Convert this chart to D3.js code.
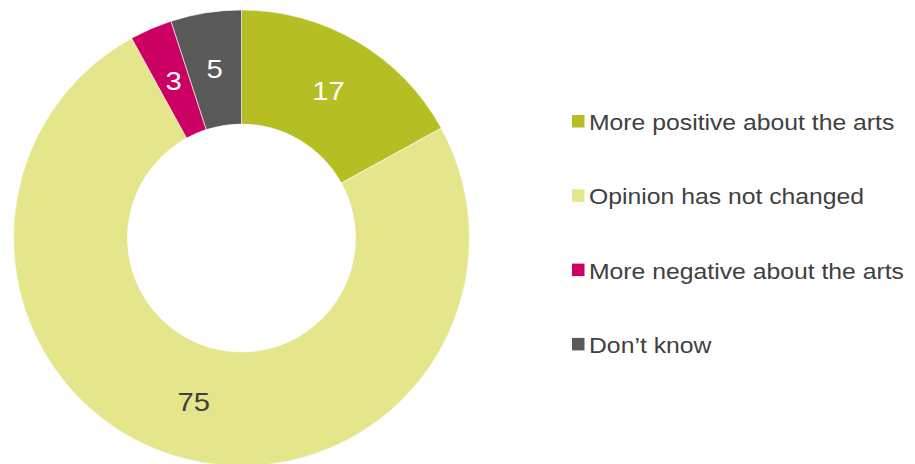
<!DOCTYPE html>
<html>
<head>
<meta charset="utf-8">
<script src="https://cdn.jsdelivr.net/npm/d3@7"></script>
<style>
  html, body { margin: 0; padding: 0; background: #fff; }
  svg { display: block; }
</style>
</head>
<body>
<svg id="chart" width="915" height="464"></svg>
<script>
// Survey responses: change in opinion about the arts (%)
const categories = ["More positive about the arts", "Opinion has not changed", "More negative about the arts", "Don\u2019t know"];
const values = [17, 75, 3, 5];
const colors = ["#b5be22", "#e5e58b", "#cc0062", "#595959"];
const labelColors = ["#ffffff", "#404040", "#ffffff", "#ffffff"];

const FONT = "'Liberation Sans', Arial, sans-serif";
const STRETCH = 1.125; // wide-set text

const svg = d3.select("#chart");
const cx = 241.5, cy = 238, outerR = 228, innerR = 114;

const data = categories.map((c, i) => ({ name: c, value: values[i], color: colors[i], label: labelColors[i] }));

const pie = d3.pie().value(d => d.value).sort(null);
const arc = d3.arc().innerRadius(innerR).outerRadius(outerR);

const g = svg.append("g").attr("transform", `translate(${cx},${cy})`);
const arcs = pie(data);

g.selectAll("path.slice")
  .data(arcs)
  .join("path")
  .attr("class", "slice")
  .attr("d", arc)
  .attr("fill", d => d.data.color)
  .attr("stroke", "#ffffff")
  .attr("stroke-width", 0.6);

g.selectAll("text.val")
  .data(arcs)
  .join("text")
  .attr("class", "val")
  .attr("transform", d => `translate(${arc.centroid(d)}) scale(${STRETCH},1)`)
  .attr("text-anchor", "middle")
  .attr("dominant-baseline", "central")
  .attr("font-family", FONT)
  .attr("font-size", 26)
  .attr("fill", d => d.data.label)
  .text(d => d.data.value);

// Legend
const legend = svg.append("g").attr("transform", "translate(572,115)");
const rowGap = 74.3;
const item = legend.selectAll("g.item")
  .data(data)
  .join("g")
  .attr("class", "item")
  .attr("transform", (d, i) => `translate(0,${i * rowGap})`);

item.append("rect")
  .attr("width", 12.5)
  .attr("height", 12.5)
  .attr("fill", d => d.color);

item.append("text")
  .attr("transform", `translate(17,15) scale(${STRETCH},1)`)
  .attr("font-family", FONT)
  .attr("font-size", 22)
  .attr("fill", "#404040")
  .text(d => d.name);
</script>
</body>
</html>
